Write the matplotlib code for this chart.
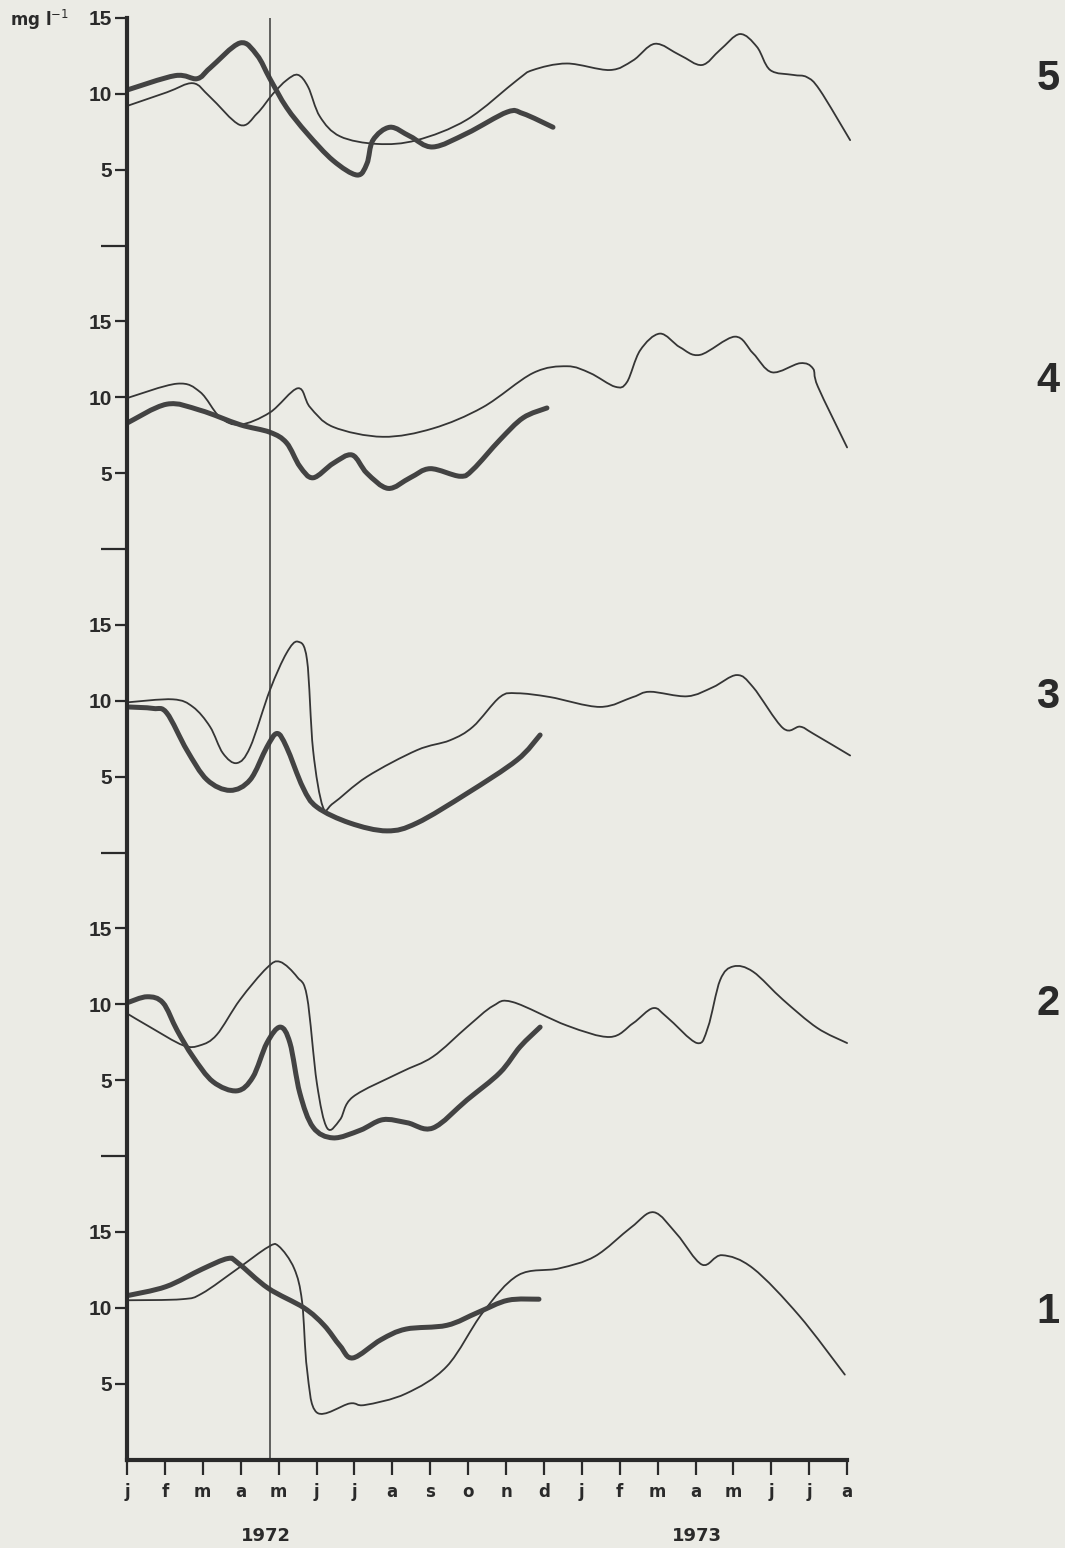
import numpy as np
import matplotlib
matplotlib.use("Agg")
import matplotlib.pyplot as plt
from matplotlib.path import Path
from matplotlib.patches import PathPatch

BG = "#ebebe5"
INK = "#2a2a2a"
NUM_FONT = ["Liberation Sans Narrow", "Liberation Sans", "DejaVu Sans"]

# months counted from January 1972 (0) to August 1973 (19)
month_labels = ["j", "f", "m", "a", "m", "j", "j", "a", "s", "o", "n", "d",
                "j", "f", "m", "a", "m", "j", "j", "a"]
years = ["1972", "1973"]
panel_names = ["1", "2", "3", "4", "5"]
marker_month = 3.77

# panel 1 (bottom)
p1_thin_m = [0, 1.45, 1.98, 2.93, 3.72, 4.0, 4.41, 4.62, 4.75, 5.01, 5.88, 6.28, 7.36,
             8.44, 9.39, 10.32, 11.4, 12.35, 13.3, 13.9, 14.51, 15.17, 15.7, 16.52, 17.73, 18.94]
p1_thin_v = [10.5, 10.57, 10.95, 12.6, 14.0, 14.07, 12.6, 10.4, 5.95, 3.1, 3.7, 3.6, 4.35,
             6.15, 9.7, 12.15, 12.6, 13.4, 15.3, 16.3, 14.85, 12.85, 13.47, 12.6, 9.5, 5.6]
p1_thick_m = [0, 1.03, 1.98, 2.66, 2.93, 3.72, 4.67, 5.2, 5.62, 5.96, 6.7, 7.36, 8.44,
              9.26, 10.05, 10.87]
p1_thick_v = [10.8, 11.4, 12.55, 13.25, 12.95, 11.3, 10.0, 8.85, 7.5, 6.7, 7.9, 8.6, 8.85,
              9.7, 10.5, 10.57]

# panel 2
p2_thin_m = [0, 0.61, 1.48, 1.93, 2.37, 2.98, 3.69, 4.04, 4.49, 4.75, 5.01, 5.28, 5.62,
             5.96, 7.2, 8.07, 8.97, 9.66, 10.18, 11.61, 12.74, 13.35, 13.88, 14.25, 15.04,
             15.33, 15.65, 16.0, 16.52, 17.31, 18.21, 19.0]
p2_thin_v = [9.4, 8.5, 7.3, 7.3, 8.0, 10.3, 12.4, 12.8, 11.8, 10.5, 4.8, 1.85, 2.4,
             3.9, 5.5, 6.55, 8.5, 9.9, 10.15, 8.6, 7.85, 8.75, 9.75, 9.15, 7.45,
             8.5, 11.6, 12.5, 12.15, 10.3, 8.45, 7.45]
p2_thick_m = [0, 0.53, 0.95, 1.32, 1.74, 2.27, 2.9, 3.32, 3.69, 4.04, 4.3, 4.56, 4.91,
              5.44, 6.15, 6.75, 7.39, 8.07, 8.97, 9.84, 10.37, 10.9]
p2_thick_v = [10.1, 10.5, 10.1, 8.3, 6.55, 4.9, 4.3, 5.2, 7.45, 8.5, 7.45, 4.15, 1.9,
              1.2, 1.7, 2.4, 2.2, 1.85, 3.7, 5.5, 7.2, 8.5]

# panel 3
p3_thin_m = [0, 1.21, 1.74, 2.19, 2.53, 2.9, 3.25, 3.77, 4.21, 4.51, 4.75, 4.91, 5.17,
             5.44, 6.33, 7.65, 8.52, 9.13, 9.84, 10.29, 11.16, 12.48, 13.35, 13.8, 14.78,
             15.46, 16.09, 16.52, 17.31, 17.76, 18.1, 19.08]
p3_thin_v = [9.9, 10.1, 9.6, 8.3, 6.55, 5.9, 6.95, 10.7, 13.15, 13.9, 12.7, 6.75, 3.0,
             3.25, 5.0, 6.75, 7.4, 8.3, 10.25, 10.5, 10.25, 9.6, 10.25, 10.6, 10.3,
             10.9, 11.7, 10.9, 8.2, 8.3, 7.85, 6.4]
p3_thick_m = [0, 0.69, 1.05, 1.58, 2.11, 2.72, 3.25, 3.69, 3.96, 4.21, 4.64, 5.01, 5.88,
              6.86, 7.65, 8.97, 10.29, 10.9]
p3_thick_v = [9.6, 9.5, 9.2, 6.75, 4.8, 4.1, 4.8, 6.95, 7.85, 6.95, 4.3, 3.0, 1.95,
              1.43, 1.95, 3.9, 6.1, 7.75]

# panel 4
p4_thin_m = [0, 1.32, 1.93, 2.45, 2.98, 3.77, 4.51, 4.83, 5.44, 6.75, 8.07, 9.39, 10.71,
             11.61, 12.22, 12.88, 13.19, 13.54, 14.06, 14.59, 15.12, 16.04, 16.52, 17.02,
             17.76, 18.1, 18.23, 19.0]
p4_thin_v = [9.95, 10.9, 10.35, 8.7, 8.2, 9.0, 10.6, 9.35, 8.05, 7.4, 7.95, 9.35, 11.6,
             12.05, 11.6, 10.7, 11.0, 13.1, 14.2, 13.3, 12.8, 14.0, 12.9, 11.65,
             12.25, 11.9, 10.7, 6.7]
p4_thick_m = [0, 1.05, 1.93, 2.98, 3.77, 4.21, 4.56, 4.91, 5.44, 5.94, 6.33, 6.89, 7.47,
              8.0, 8.79, 9.13, 9.84, 10.45, 11.08]
p4_thick_v = [8.3, 9.55, 9.15, 8.2, 7.7, 7.0, 5.45, 4.7, 5.65, 6.2, 5.0, 4.0, 4.7,
              5.3, 4.8, 5.25, 7.2, 8.65, 9.3]

# panel 5 (top)
p5_thin_m = [0, 1.05, 1.74, 2.19, 2.98, 3.43, 3.85, 4.21, 4.51, 4.78, 5.09, 5.62, 6.6,
             7.65, 8.97, 10.29, 10.71, 11.61, 12.74, 13.35, 13.93, 14.59, 15.17, 15.65,
             16.17, 16.62, 16.97, 17.57, 17.94, 18.28, 19.08]
p5_thin_v = [9.2, 10.1, 10.7, 9.8, 7.95, 8.7, 10.0, 10.9, 11.25, 10.45, 8.5, 7.2, 6.7,
             6.95, 8.3, 10.9, 11.57, 12.0, 11.57, 12.2, 13.3, 12.55, 11.9, 12.9,
             13.94, 13.1, 11.57, 11.25, 11.1, 10.25, 6.95]
p5_thick_m = [0, 1.27, 1.85, 2.19, 2.98, 3.43, 3.77, 4.21, 4.75, 5.44, 6.07, 6.33, 6.49,
              6.94, 7.47, 8.07, 8.97, 10.03, 10.45, 11.24]
p5_thick_v = [10.25, 11.2, 11.0, 11.7, 13.35, 12.55, 11.0, 9.1, 7.4, 5.6, 4.65, 5.4, 6.95,
              7.8, 7.2, 6.5, 7.4, 8.8, 8.7, 7.8]

panels = [
    (p1_thin_m, p1_thin_v, p1_thick_m, p1_thick_v),
    (p2_thin_m, p2_thin_v, p2_thick_m, p2_thick_v),
    (p3_thin_m, p3_thin_v, p3_thick_m, p3_thick_v),
    (p4_thin_m, p4_thin_v, p4_thick_m, p4_thick_v),
    (p5_thin_m, p5_thin_v, p5_thick_m, p5_thick_v),
]

PANEL_SPAN = 20  # each panel is 0-20 mg/l stacked on one axis


def smooth_path(xs, ys):
    """Catmull-Rom through the points, drawn as cubic Beziers."""
    p = np.column_stack([xs, ys]).astype(float)
    ext = np.vstack([p[0], p, p[-1]])
    verts = [p[0]]
    codes = [Path.MOVETO]
    for i in range(1, len(ext) - 2):
        c1 = ext[i] + (ext[i + 1] - ext[i - 1]) / 6.0
        c2 = ext[i + 1] - (ext[i + 2] - ext[i]) / 6.0
        verts += [c1, c2, ext[i + 1]]
        codes += [Path.CURVE4] * 3
    return Path(verts, codes)


fig = plt.figure(figsize=(10.65, 15.48), dpi=100, facecolor=BG)
ax_bottom = (1548 - 1459.6) / 1548
ax = fig.add_axes([127 / 1065, ax_bottom, 1 - 127 / 1065, 1 - ax_bottom])
ax.set_facecolor(BG)
ax.set_xlim(0, (1065 - 127) / 37.9)
ax.set_ylim(0, 1459.6 / 15.175)

for k, (tm, tv, km, kv) in enumerate(panels):
    off = k * PANEL_SPAN
    ax.add_patch(PathPatch(smooth_path(tm, np.array(tv) + off), fill=False,
                           edgecolor="#353535", lw=1.3, capstyle="round", joinstyle="round"))
    ax.add_patch(PathPatch(smooth_path(km, np.array(kv) + off), fill=False,
                           edgecolor="#434343", lw=3.6, capstyle="round", joinstyle="round"))
    ax.text(24.3, off + [9.7, 10.0, 10.25, 11.1, 11.0][k], panel_names[k],
            fontsize=30, fontweight="bold", color=INK, family=NUM_FONT,
            ha="center", va="center")

top = 4 * PANEL_SPAN + 15
ax.vlines(marker_month, 0, top, color="#3a3a3a", lw=1.1)

for side in ["top", "right"]:
    ax.spines[side].set_visible(False)
ax.spines["left"].set_bounds(0, top)
ax.spines["bottom"].set_bounds(0, len(month_labels) - 1)
for side in ["left", "bottom"]:
    ax.spines[side].set_linewidth(3.0)
    ax.spines[side].set_color(INK)
    ax.spines[side].set_capstyle("projecting")

yt = [k * PANEL_SPAN + v for k in range(5) for v in (5, 10, 15)]
ax.set_yticks(yt)
ax.set_yticklabels([str(v) for k in range(5) for v in (5, 10, 15)],
                   fontsize=15, fontweight="bold", color=INK, family=NUM_FONT)
ax.set_yticks([k * PANEL_SPAN for k in range(1, 5)], minor=True)
ax.tick_params(axis="y", which="major", direction="out", length=9, width=1.6,
               color=INK, pad=2)
ax.tick_params(axis="y", which="minor", direction="out", length=19, width=1.6,
               color=INK)

ax.set_xticks(range(len(month_labels)))
ax.set_xticklabels(month_labels, fontsize=12, fontweight="bold", color=INK)
ax.tick_params(axis="x", direction="out", length=11, width=1.6, color=INK, pad=6)

fig.text(10 / 1065, 1 - 20 / 1548, r"mg l$^{-1}$", fontsize=12, fontweight="bold",
         color=INK, ha="left", va="center")
fig.text(266 / 1065, 1 - 1536 / 1548, years[0], fontsize=13, fontweight="bold",
         color=INK, ha="center", va="center")
fig.text(697 / 1065, 1 - 1536 / 1548, years[1], fontsize=13, fontweight="bold",
         color=INK, ha="center", va="center")

fig.savefig("out.png", dpi=100, facecolor=BG)
